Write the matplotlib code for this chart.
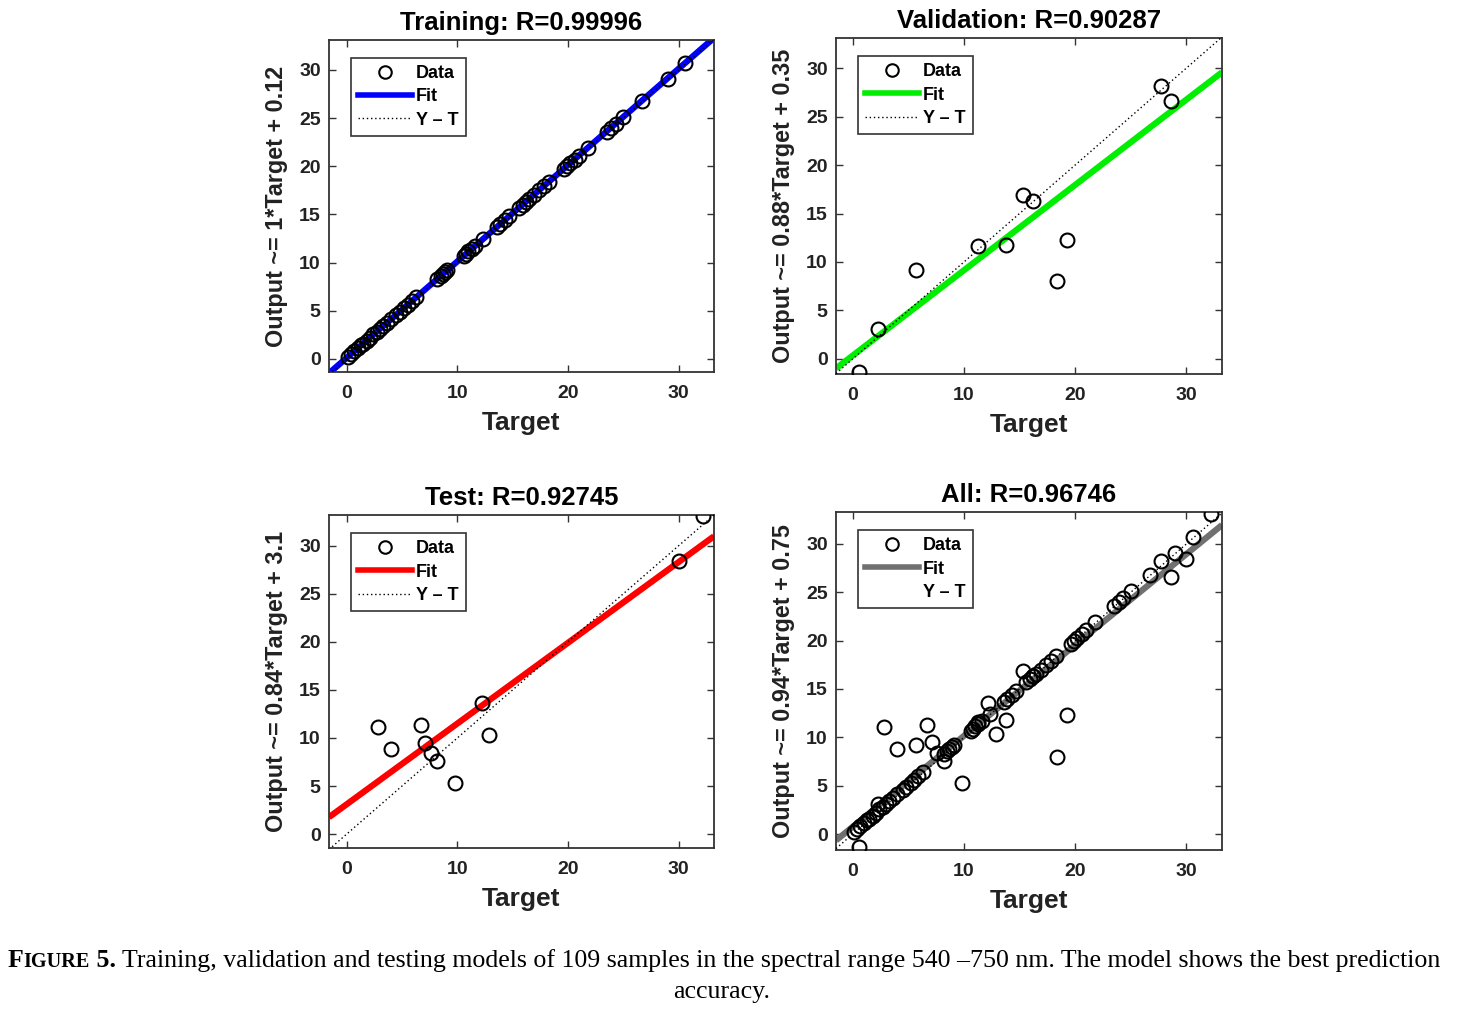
import matplotlib
matplotlib.use('Agg')
import matplotlib.pyplot as plt
from matplotlib.lines import Line2D
import numpy as np

plt.rcParams['font.family'] = ['Liberation Sans', 'DejaVu Sans']

# ---------------- data ----------------
train_target = [0.1, 0.4, 0.7, 1.0, 1.3, 1.5, 1.8, 2.1, 2.4, 2.7, 3.0, 3.3, 3.6, 4.0,
                4.5, 4.8, 5.2, 5.5, 5.9, 6.3, 8.2, 8.5, 8.7, 8.9, 9.1, 10.6, 10.8,
                11.0, 11.3, 11.6, 12.3, 13.6, 13.9, 14.3, 14.7, 15.6, 15.9, 16.2,
                16.5, 16.9, 17.4, 17.8, 18.3, 19.6, 19.9, 20.2, 20.6, 21.0, 21.8,
                23.5, 23.9, 24.3, 25.0, 26.7, 29.0, 30.6]
train_output = [0.2, 0.5, 0.8, 1.1, 1.5, 1.6, 1.9, 2.2, 2.6, 2.8, 3.1, 3.4, 3.7, 4.1,
                4.6, 4.9, 5.3, 5.6, 6.0, 6.4, 8.3, 8.6, 8.8, 9.0, 9.2, 10.7, 10.9,
                11.2, 11.4, 11.7, 12.4, 13.7, 14.0, 14.4, 14.8, 15.7, 16.0, 16.3,
                16.6, 17.0, 17.5, 17.9, 18.4, 19.7, 20.0, 20.3, 20.7, 21.1, 21.9,
                23.6, 24.0, 24.4, 25.1, 26.8, 29.1, 30.7]

val_target = [0.6, 2.3, 5.7, 11.3, 13.8, 15.3, 16.2, 18.4, 19.3, 27.7, 28.6]
val_output = [-1.3, 3.1, 9.2, 11.6, 11.8, 16.9, 16.3, 8.0, 12.3, 28.2, 26.6]

test_target = [2.8, 4.0, 6.7, 7.1, 7.6, 8.2, 9.8, 12.2, 12.9, 30.0, 32.2]
test_output = [11.1, 8.8, 11.3, 9.5, 8.4, 7.6, 5.3, 13.6, 10.3, 28.4, 33.1]

panel_titles = ["Training: R=0.99996", "Validation: R=0.90287",
                "Test: R=0.92745", "All: R=0.96746"]
fit_slopes = [1.0, 0.88, 0.84, 0.94]
fit_intercepts = [0.12, 0.35, 3.1, 0.75]
y_labels = ["Output ~= 1*Target + 0.12", "Output ~= 0.88*Target + 0.35",
            "Output ~= 0.84*Target + 3.1", "Output ~= 0.94*Target + 0.75"]
x_ticks = [0, 10, 20, 30]
y_ticks = [0, 5, 10, 15, 20, 25, 30]
legend_labels = ["Data", "Fit", "Y \u2013 T"]

all_target = train_target + val_target + test_target
all_output = train_output + val_output + test_output
panel_data = [(train_target, train_output), (val_target, val_output),
              (test_target, test_output), (all_target, all_output)]

# ---------------- layout / style ----------------
W, H = 1468, 1016
fig = plt.figure(figsize=(W / 100, H / 100), dpi=100)

def box(l, r, t, b):
    return [l / W, 1 - b / H, (r - l) / W, (b - t) / H]

positions = [box(329, 714, 40, 372), box(836, 1222, 38, 374),
             box(329, 714, 515, 848), box(836, 1222, 512, 850)]
xlims = [(-1.6, 33.2), (-1.5, 33.2), (-1.6, 33.2), (-1.5, 33.2)]
ylims = [(-1.35, 33.1), (-1.55, 33.1), (-1.45, 33.2), (-1.65, 33.3)]
fit_colors = ['#0000ff', '#00ee00', '#ff0000', '#707070']
text_col = '#222222'

for i in range(4):
    ax = fig.add_axes(positions[i])
    xl, yl = xlims[i], ylims[i]
    ax.set_xlim(*xl)
    ax.set_ylim(*yl)
    xs = np.array(xl)
    ax.plot(xs, fit_slopes[i] * xs + fit_intercepts[i], color=fit_colors[i],
            lw=4.5, solid_capstyle='butt', zorder=2)
    ax.plot(xs, xs, color='k', lw=1.0, ls=(0, (1, 2)), zorder=3)
    t, o = panel_data[i]
    ax.plot(t, o, ls='none', marker='o', mfc='none', mec='k', ms=10, mew=1.5,
            zorder=4)

    ax.set_xticks(x_ticks)
    ax.set_yticks(y_ticks)
    ax.tick_params(direction='in', top=True, right=True, length=5, width=1,
                   color='#333333', labelsize=14, labelcolor=text_col)
    ax.tick_params(axis='x', pad=9)
    ax.tick_params(axis='y', pad=6)
    for lab in ax.get_xticklabels() + ax.get_yticklabels():
        lab.set_fontweight('bold')
    for sp in ax.spines.values():
        sp.set_color('#333333')
        sp.set_linewidth(1.3)

    ax.set_title(panel_titles[i], fontsize=18.5, fontweight='bold', pad=7,
                 color='black')
    ax.set_xlabel("Target", fontsize=19, fontweight='bold', color=text_col,
                  labelpad=7)
    ax.set_ylabel(y_labels[i], fontsize=16.8, fontweight='bold', color=text_col,
                  labelpad=8)

    h_data = Line2D([], [], ls='none', marker='o', mfc='none', mec='k', ms=9,
                    mew=1.5)
    h_fit = Line2D([], [], color=fit_colors[i], lw=4)
    h_yt = Line2D([], [], color='k' if i < 3 else 'none', lw=1,
                  ls=(0, (1, 2)))
    leg = ax.legend([h_data, h_fit, h_yt], legend_labels, loc='upper left',
                    bbox_to_anchor=(0.057, 0.946), borderaxespad=0,
                    handlelength=3.0, handletextpad=0.2, labelspacing=0.35,
                    borderpad=0.4, fancybox=False, framealpha=1,
                    edgecolor='#333333',
                    prop={'size': 13, 'weight': 'bold'})
    leg.get_frame().set_linewidth(1.2)

# ---------------- caption ----------------
fig.canvas.draw()
renderer = fig.canvas.get_renderer()
cap_size = 18.65
x = 8 / W
y = 1 - 967 / H
pieces = [("F", cap_size, 'bold'), ("IGURE", cap_size * 0.78, 'bold'),
          (" 5.", cap_size, 'bold'),
          (" Training, validation and testing models of 109 samples in the spectral "
           "range 540 \u2013750 nm. The model shows the best prediction", cap_size, 'normal')]
for s, size, w in pieces:
    tx = fig.text(x, y, s, fontsize=size, fontweight=w, family='Liberation Serif',
                  va='baseline', ha='left', color='black')
    bb = tx.get_window_extent(renderer)
    x += bb.width / fig.bbox.width
fig.text(722 / W, 1 - 998 / H, "accuracy.", fontsize=cap_size,
         family='Liberation Serif', va='baseline', ha='center', color='black')

fig.savefig('out.png', dpi=100)
